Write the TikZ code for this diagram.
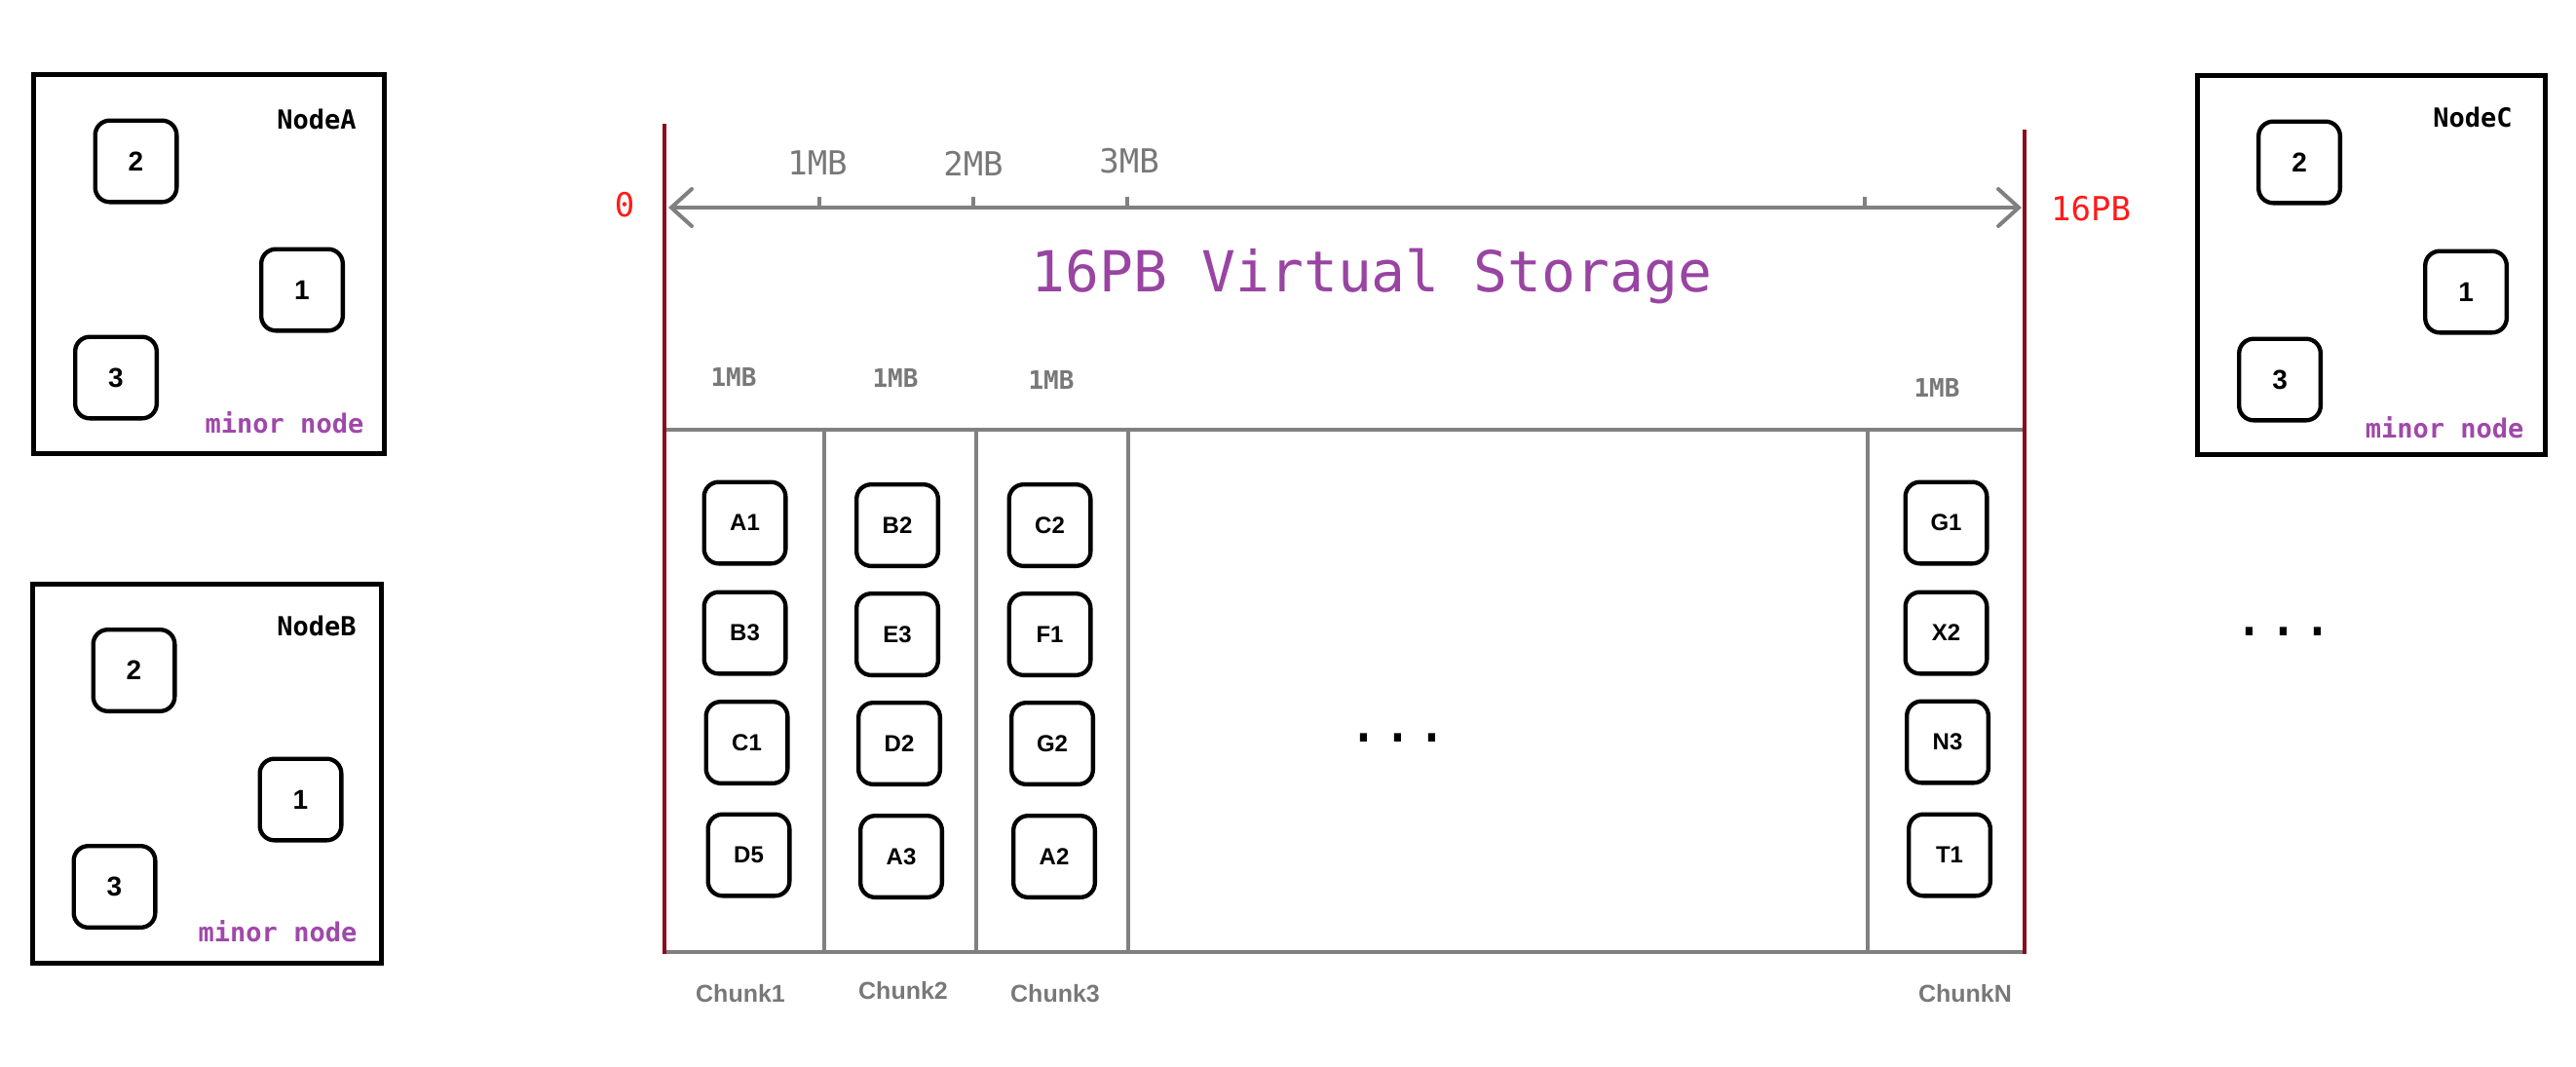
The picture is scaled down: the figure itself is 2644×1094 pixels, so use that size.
\documentclass[tikz,border=0pt]{standalone}
\usepackage{fontspec}
\setmainfont{Liberation Sans}
\newfontfamily\dmono{DejaVu Sans Mono}
\usetikzlibrary{arrows.meta}
\definecolor{darkred}{RGB}{139,10,30}
\definecolor{brightred}{RGB}{255,26,26}
\definecolor{gridgray}{RGB}{128,128,128}
\definecolor{textgray}{RGB}{120,120,120}
\definecolor{titlepurple}{RGB}{153,68,163}
\definecolor{minorpurple}{RGB}{160,72,170}
\begin{document}
\begin{tikzpicture}[x=0.3pt,y=-0.3pt,
  chip/.style={draw=black, line width=1.3pt, rounded corners=4.5pt, minimum width=25.1pt, minimum height=25.1pt, inner sep=0pt, font=\bfseries\fontsize{7.2}{8}\selectfont},
  num/.style={chip, font=\bfseries\fontsize{8.4}{9}\selectfont},
  hostbox/.style={draw=black, line width=1.5pt},
  hostlabel/.style={anchor=base, inner sep=0pt, font=\dmono\bfseries\fontsize{8.1}{9}\selectfont},
  minorlabel/.style={anchor=base, inner sep=0pt, text=minorpurple, font=\dmono\bfseries\fontsize{8.1}{9}\selectfont},
  gridline/.style={draw=gridgray, line width=1.2pt},
  redline/.style={draw=darkred, line width=1.2pt},
  rulerlabel/.style={anchor=base, inner sep=0pt, text=textgray, font=\dmono\fontsize{10.2}{11}\selectfont},
  sizelabel/.style={anchor=base, inner sep=0pt, text=textgray, font=\dmono\bfseries\fontsize{7.8}{9}\selectfont},
  chunklabel/.style={anchor=base, inner sep=0pt, text=textgray, font=\bfseries\fontsize{7.5}{8}\selectfont},
  endlabel/.style={anchor=base, inner sep=0pt, text=brightred, font=\dmono\fontsize{10.2}{11}\selectfont},
  dotslabel/.style={anchor=base, inner sep=0pt, font=\dmono\fontsize{17.4}{18}\selectfont},
  barb/.tip={Straight Barb[length=6.3pt,width=11.4pt,line cap=round]}
]
\useasboundingbox (0,0) rectangle (2644,1094);

% ---------- NodeA ----------
\draw[hostbox] (34.5,76.5) rectangle (394.5,465.5);
\node[hostlabel] (nodeA) at (325,132) {NodeA};
\node[num] (a2) at (139.5,165.5) {2};
\node[num] (a1) at (310,297.5) {1};
\node[num] (a3) at (119,387.5) {3};
\node[minorlabel] (minA) at (292,444.5) {minor node};

% ---------- NodeB ----------
\draw[hostbox] (33.5,599.5) rectangle (391.5,988.5);
\node[hostlabel] (nodeB) at (325,652) {NodeB};
\node[num] (b2) at (137.5,688) {2};
\node[num] (b1) at (308.5,820.5) {1};
\node[num] (b3) at (117.5,910) {3};
\node[minorlabel] (minB) at (285,966.5) {minor node};

% ---------- NodeC ----------
\draw[hostbox] (2255.5,77.5) rectangle (2612.5,466.5);
\node[hostlabel] (nodeC) at (2538,130) {NodeC};
\node[num] (c2) at (2360,166.5) {2};
\node[num] (c1) at (2531,299.5) {1};
\node[num] (c3) at (2340,389.5) {3};
\node[minorlabel] (minC) at (2509,449.5) {minor node};

\node[dotslabel] (moreNodes) at (2344,652) {...};

% ---------- Virtual storage ----------
\coordinate (redLtop) at (682,127);
\coordinate (redLbot) at (682,979);
\coordinate (redRtop) at (2078,133);
\coordinate (redRbot) at (2078,979);
\coordinate (arL) at (686,213);
\coordinate (arR) at (2075,213);
\coordinate (gTL) at (682,441);
\coordinate (gTR) at (2078,441);
\coordinate (gBL) at (682,977);
\coordinate (gBR) at (2078,977);

% ruler
\draw[gridline, {barb}-{barb}] (arL) -- (arR);
\foreach \tx/\nm in {841/t1,999/t2,1157/t3,1914/t4}{
  \coordinate (\nm b) at (\tx,213);
  \coordinate (\nm t) at (\tx,202);
  \draw[gridline] (\nm b) -- (\nm t);
}
\node[rulerlabel] (r1) at (839,179) {1MB};
\node[rulerlabel] (r2) at (999,180) {2MB};
\node[rulerlabel] (r3) at (1159,177) {3MB};
\node[endlabel] (zero) at (641,222.5) {0};
\node[endlabel] (pb) at (2146,226) {16PB};

\node[anchor=base, inner sep=0pt, text=titlepurple, font=\dmono\fontsize{17.4}{19}\selectfont] (title) at (1408,299.5) {16PB Virtual Storage};

% chunk grid
\draw[gridline] (gTL) -- (gTR);
\draw[gridline] (gBL) -- (gBR);
\foreach \vx/\nm in {846/v1,1002/v2,1158/v3,1917/v4}{
  \coordinate (\nm t) at (\vx,441);
  \coordinate (\nm b) at (\vx,977);
  \draw[gridline] (\nm t) -- (\nm b);
}
\draw[redline] (redLtop) -- (redLbot);
\draw[redline] (redRtop) -- (redRbot);

% chunk size labels
\node[sizelabel] (s1) at (753,396.5) {1MB};
\node[sizelabel] (s2) at (919,397.5) {1MB};
\node[sizelabel] (s3) at (1079,399.5) {1MB};
\node[sizelabel] (sN) at (1988,407.5) {1MB};

% replicas
\node[chip] (A1) at (764.5,536.5) {A1};
\node[chip] (B3) at (764.5,649.5) {B3};
\node[chip] (C1) at (766.5,762) {C1};
\node[chip] (D5) at (768.5,877.5) {D5};

\node[chip] (B2) at (921,539) {B2};
\node[chip] (E3) at (921,651) {E3};
\node[chip] (D2) at (923,763) {D2};
\node[chip] (A3) at (925,879) {A3};

\node[chip] (C2) at (1077.5,539) {C2};
\node[chip] (F1) at (1077.5,651) {F1};
\node[chip] (G2) at (1080,763) {G2};
\node[chip] (A2) at (1082,879) {A2};

\node[chip] (G1) at (1997.5,536.5) {G1};
\node[chip] (X2) at (1997.5,649.5) {X2};
\node[chip] (N3) at (1999,761.5) {N3};
\node[chip] (T1) at (2001,877.5) {T1};

\node[dotslabel] (moreChunks) at (1435,761) {...};

% chunk names
\node[chunklabel] (ch1) at (760,1028.5) {Chunk1};
\node[chunklabel] (ch2) at (927,1025.5) {Chunk2};
\node[chunklabel] (ch3) at (1083,1028.5) {Chunk3};
\node[chunklabel] (chN) at (2017,1028.5) {ChunkN};
\end{tikzpicture}
\end{document}
